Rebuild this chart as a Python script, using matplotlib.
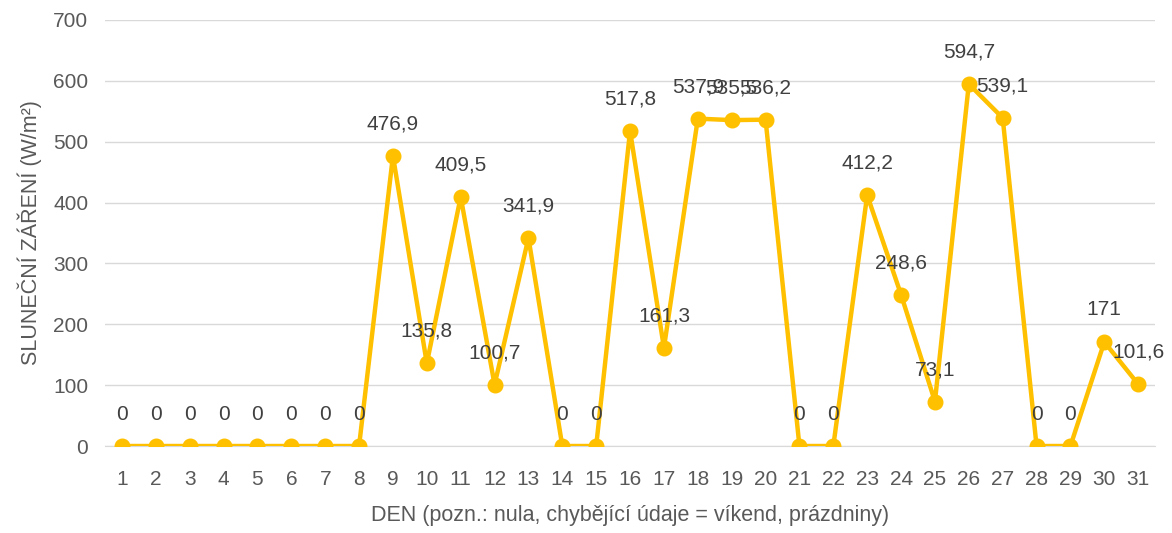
import numpy as np
import matplotlib
matplotlib.use("Agg")
import matplotlib.pyplot as plt

days = list(range(1, 32))
radiation = [0, 0, 0, 0, 0, 0, 0, 0, 476.9, 135.8, 409.5, 100.7, 341.9, 0, 0,
             517.8, 161.3, 537.9, 535.5, 536.2, 0, 0, 412.2, 248.6, 73.1,
             594.7, 539.1, 0, 0, 171, 101.6]
y_ticks = [0, 100, 200, 300, 400, 500, 600, 700]

plt.rcParams['font.family'] = ['Liberation Sans', 'DejaVu Sans']
text_color = '#595959'

fig = plt.figure(figsize=(11.72, 5.33), dpi=100)
ax = fig.add_axes([0.0896, 0.1632, 0.896, 0.7993])

ax.plot(days, radiation, color='#FFC000', linewidth=3.2, marker='o',
        markersize=10.5, zorder=3)

for d, v in zip(days, radiation):
    if v == int(v):
        label = str(int(v))
    else:
        label = f"{v:.1f}".replace('.', ',')
    ax.annotate(label, (d, v), xytext=(0, 23), textcoords='offset points',
                ha='center', va='center', fontsize=15, color='#404040')

ax.set_xlim(0.5, 31.5)
ax.set_ylim(0, 700)
ax.set_xticks(days)
ax.set_yticks(y_ticks)
ax.grid(axis='y', color='#D9D9D9', linewidth=1)
ax.set_axisbelow(True)
for side in ['top', 'right', 'left']:
    ax.spines[side].set_visible(False)
ax.spines['bottom'].set_color('#D9D9D9')
ax.tick_params(axis='both', length=0, labelsize=15, labelcolor=text_color)
ax.tick_params(axis='x', pad=17)
ax.tick_params(axis='y', pad=12)

ax.set_xlabel('DEN (pozn.: nula, chybějící údaje = víkend, prázdniny)',
              fontsize=15.5, color=text_color, labelpad=12)
ax.set_ylabel('SLUNEČNÍ ZÁŘENÍ (W/m²)', fontsize=15.5, color=text_color,
              labelpad=8)

fig.savefig('out.png', dpi=100)
